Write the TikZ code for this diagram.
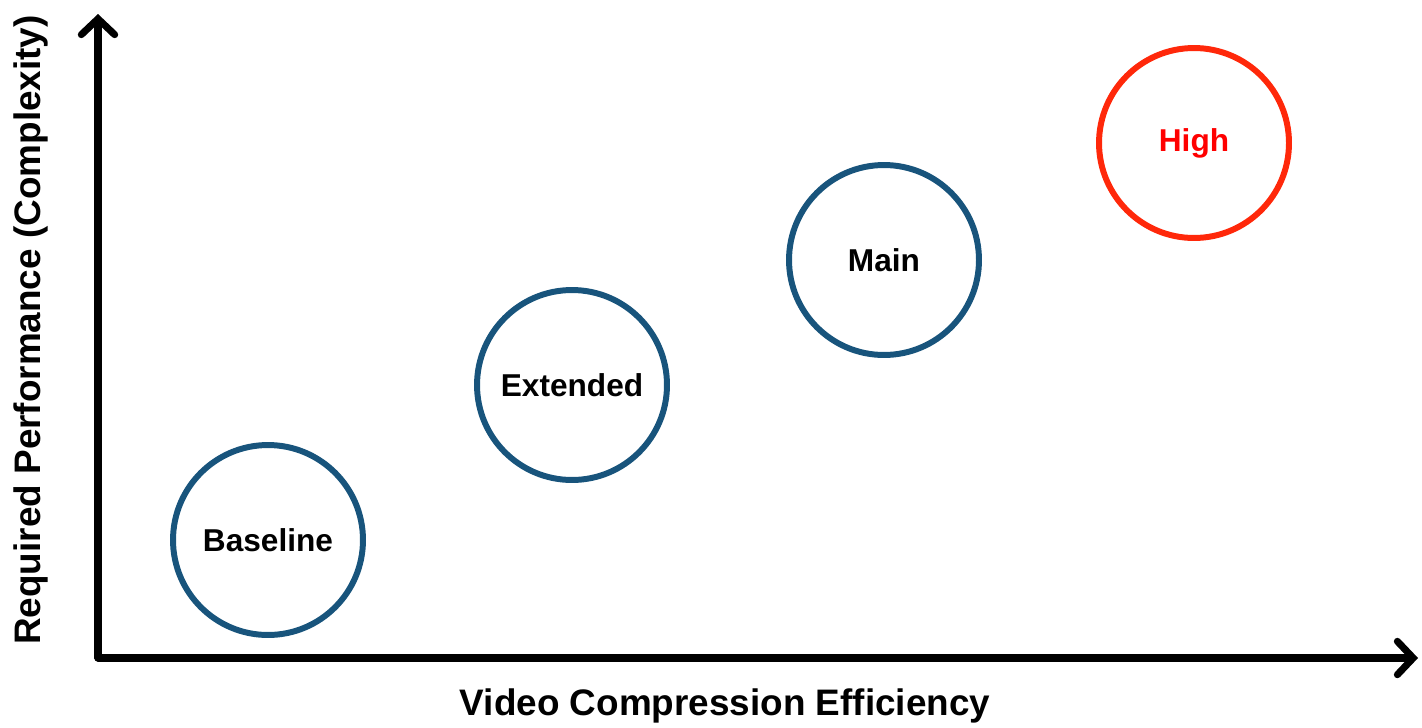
\documentclass[tikz,border=0pt]{standalone}
\usepackage{fontspec}
\setmainfont{Liberation Sans}
\usetikzlibrary{arrows.meta,positioning}
\definecolor{bleuCercle}{RGB}{24,84,124}
\definecolor{rougeCercle}{RGB}{255,40,10}
\definecolor{rougeTexte}{RGB}{255,0,0}

\begin{document}
\begin{tikzpicture}[x=0.02cm,y=-0.02cm,font=\bfseries,
  c/.style={circle,minimum size=3.8cm,draw=bleuCercle,line width=3.4pt,
            font=\fontsize{18}{20}\selectfont\bfseries},
  ax/.style={line width=4pt,line cap=round,line join=round,
             -{Straight Barb[length=9pt,width=19pt,line cap=round]}},
  lab/.style={font=\fontsize{21}{24}\selectfont\bfseries}]

  \useasboundingbox (0,0) rectangle (1422,727);

  \coordinate (o) at (98,658);
  \coordinate (ytop) at (98,14);
  \coordinate (xend) at (1418,658);

  \draw[ax] (o)--(ytop);
  \draw[ax] (o)--(xend);

  \node[lab] (xl) at (725,706) {Video Compression Efficiency};
  \node[lab,rotate=90] (yl) at (31,330) {Required Performance (Complexity)};

  \node[c] (c1) at (268,540) {Baseline};
  \node[c] (c2) at (572,385) {Extended};
  \node[c] (c3) at (884,260) {Main};
  \node[c,draw=rougeCercle,text=rougeTexte] (c4) at (1194,143) {High};
\end{tikzpicture}
\end{document}
